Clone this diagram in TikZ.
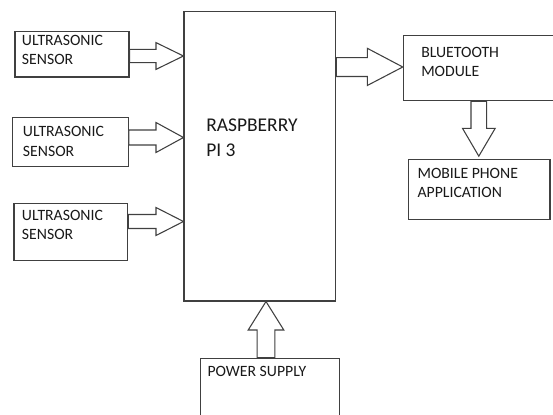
\documentclass[tikz,border=0pt]{standalone}
\usepackage{fontspec}
\setmainfont{Carlito}
\usetikzlibrary{fit,calc}
\begin{document}
\begin{tikzpicture}[x=0.75pt,y=-0.75pt,
  box/.style={draw=black!75,line width=0.8pt,inner sep=0pt,rectangle},
  barrow/.style={draw=black!75,line width=0.8pt,fill=white,line join=miter},
  lbl/.style={inner sep=0pt,anchor=base west,align=left,text=black!90,
    font=\fontsize{11.8}{14.3}\selectfont},
  biglbl/.style={lbl,font=\fontsize{14.6}{18.8}\selectfont}]
\clip (0,0) rectangle (553,414);
\fill[white] (0,0) rectangle (553,414);
% boxes
\node[box,fit={(15,31.7) (129,77)}] (s1) {};
\node[box,fit={(12.3,117.7) (128.3,166.7)}] (s2) {};
\node[box,fit={(14,203.3) (127.7,260.5)}] (s3) {};
\node[box,fit={(184,11.7) (335.7,301)}] (rpi) {};
\node[box,fit={(403.3,35.7) (560,100.7)}] (bt) {};
\node[box,fit={(408.3,159.3) (550,219.3)}] (mob) {};
\node[box,fit={(200.7,358.3) (339.3,420)}] (pw) {};
% labels (base anchor = baseline of last line)
\node[lbl] (s1t) at (21.7,64.5) {ULTRASONIC\\SENSOR};
\node[lbl] (s2t) at (22.7,156) {ULTRASONIC\\SENSOR};
\node[lbl] (s3t) at (21.7,239.7) {ULTRASONIC\\SENSOR};
\node[biglbl] (rpit) at (206,156.7) {RASPBERRY\\PI 3};
\node[lbl] (btt) at (421,76.7) {BLUETOOTH\\MODULE};
\node[lbl] (mobt) at (417.3,197.8) {MOBILE PHONE\\APPLICATION};
\node[lbl] (pwt) at (207.3,376) {POWER SUPPLY};
% block arrows
\draw[barrow] (s1.east |- 0,49.3) -- (156,49.3) -- (156,42.6) -- (rpi.west |- 0,56)
  -- (156,69.4) -- (156,62.7) -- (s1.east |- 0,62.7) -- cycle;
\draw[barrow] (s2.east |- 0,130) -- (156,130) -- (156,122.5) -- (rpi.west |- 0,137.5)
  -- (156,152.5) -- (156,145) -- (s2.east |- 0,145) -- cycle;
\draw[barrow] (s3.east |- 0,214.5) -- (156,214.5) -- (156,207.5) -- (rpi.west |- 0,221.5)
  -- (156,235.5) -- (156,228.5) -- (s3.east |- 0,228.5) -- cycle;
\draw[barrow] (rpi.east |- 0,57.7) -- (367.3,57.7) -- (367.3,48.3) -- (bt.west |- 0,67)
  -- (367.3,85.5) -- (367.3,76.5) -- (rpi.east |- 0,76.5) -- cycle;
\draw[barrow] (bt.south -| 471,0) -- (471,128.3) -- (462.5,128.3)
  -- ($(mob.north -| 478.8,0)+(0,-2.6)$)
  -- (495.2,128.3) -- (486.7,128.3) -- (bt.south -| 486.7,0) -- cycle;
\draw[barrow] (pw.north -| 257.2,0) -- (257.2,330) -- (248.2,330) -- (rpi.south -| 266,0)
  -- (283.8,330) -- (274.8,330) -- (pw.north -| 274.8,0) -- cycle;
\end{tikzpicture}
\end{document}
